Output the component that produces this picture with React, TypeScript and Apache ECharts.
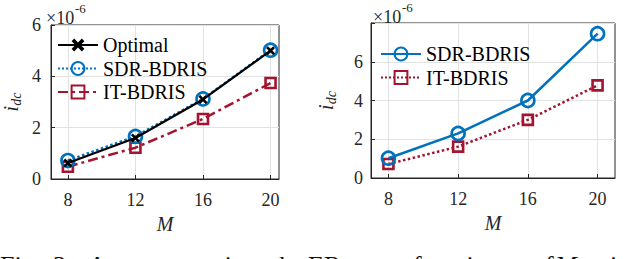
import React, { useEffect, useRef } from 'react';
import * as echarts from 'echarts';

const mValues = [8, 12, 16, 20];
// values in units of 1e-6
const leftOptimal = [0.62, 1.6, 3.1, 5.0];
const leftSDR = [0.72, 1.66, 3.12, 5.02];
const leftIT = [0.48, 1.22, 2.34, 3.74];
const rightSDR = [1.02, 2.3, 4.0, 7.45];
const rightIT = [0.72, 1.62, 3.0, 4.78];
const seriesNamesLeft = ['Optimal', 'SDR-BDRIS', 'IT-BDRIS'];
const seriesNamesRight = ['SDR-BDRIS', 'IT-BDRIS'];
const captionWords: [string, number, boolean][] = [
  ['Fig.', 0, false], ['3:', 53, false], ['Average', 88, false], ['i', 223, true],
  ['at', 247, false], ['the', 272, false], ['ER', 308, false], ['as', 365, false],
  ['a', 398, false], ['function', 413, false], ['of', 532, false], ['M', 555, true],
  ['using', 587, false],
];

const SERIF = 'Liberation Serif';
const AX = '#262626';
const GRIDC = '#e2e2e2';
const BLUE = '#0072BD';
const RED = '#A2142F';
const XSYM = 'path://M0,2 L2,0 L5,3 L8,0 L10,2 L7,5 L10,8 L8,10 L5,7 L2,10 L0,8 L3,5 Z';

const pairs = (ys: number[]) => ys.map((v, i) => [mValues[i], v]);

function xAxis(gridIndex: number, max: number) {
  return {
    type: 'value', gridIndex, min: 7, max,
    name: 'M', nameLocation: 'middle', nameGap: 30,
    nameTextStyle: { fontFamily: SERIF, fontStyle: 'italic', fontSize: 20, color: AX },
    axisLine: { show: true, lineStyle: { color: AX, width: 1 } },
    axisTick: { show: true, inside: true, length: 4, customValues: mValues, lineStyle: { color: AX } },
    axisLabel: { customValues: mValues, margin: 12, fontFamily: SERIF, fontSize: 18, color: AX },
    splitLine: { show: true, lineStyle: { color: GRIDC, width: 1 } },
  };
}

function yAxis(gridIndex: number, max: number, nameGap: number, margin: number) {
  return {
    type: 'value', gridIndex, min: 0, max, interval: 2,
    name: '{a|i}{b|dc}', nameLocation: 'middle', nameGap, nameRotate: 90,
    nameTextStyle: {
      rich: {
        a: { fontFamily: SERIF, fontStyle: 'italic', fontSize: 20, color: AX },
        b: { fontFamily: SERIF, fontStyle: 'italic', fontSize: 14, color: AX, padding: [10, 0, 0, 0] },
      },
    },
    axisLine: { show: true, lineStyle: { color: AX, width: 1 } },
    axisTick: { show: true, inside: true, length: 4, lineStyle: { color: AX } },
    axisLabel: {
      margin, fontFamily: SERIF, fontSize: 18, color: AX,
      formatter: (v: number) => (v >= 7.9 ? '' : String(v)),
    },
    splitLine: { show: true, lineStyle: { color: GRIDC, width: 1 } },
  };
}

export default function App() {
  const ref = useRef<HTMLDivElement>(null);
  useEffect(() => {
    document.body.style.margin = '0';
    const chart = echarts.init(ref.current!, undefined, { renderer: 'svg' });
    const exp = (x: number, y: number) => [
      { type: 'text', x, y, style: { text: '×10', fontFamily: SERIF, fontSize: 18, fill: AX, verticalAlign: 'top' } },
      { type: 'text', x: x + 29, y: y - 7, style: { text: '-6', fontFamily: SERIF, fontSize: 13, fill: AX, verticalAlign: 'top' } },
    ];
    const caption = captionWords.map(([w, x, it]) => ({
      type: 'text', x, y: 252,
      style: { text: w, fontFamily: SERIF, fontStyle: it ? 'italic' : 'normal', fontSize: 26, fill: '#111', verticalAlign: 'top' },
    }));
    const legendBase = {
      orient: 'vertical', itemWidth: 40, itemHeight: 16, itemGap: 3.5,
      textStyle: { fontFamily: SERIF, fontSize: 20, color: '#000' },
    };
    chart.setOption({
      animation: false,
      backgroundColor: '#fff',
      grid: [
        { left: 45, top: 25, width: 234, height: 154, show: true, borderColor: AX, borderWidth: 1 },
        { left: 371, top: 23, width: 244, height: 155, show: true, borderColor: AX, borderWidth: 1 },
      ],
      xAxis: [xAxis(0, 20.5), xAxis(1, 21)],
      yAxis: [yAxis(0, 6, 28, 10), yAxis(1, 8, 33, 8)],
      legend: [
        { ...legendBase, data: seriesNamesLeft.map((n) => ({ name: n })), left: 52, top: 30 },
        {
          ...legendBase, data: seriesNamesRight.map((n) => ({ name: n + ' ' })), left: 375, top: 39,
          formatter: (n: string) => n.trim(),
        },
      ],
      series: [
        {
          name: seriesNamesLeft[0], type: 'line', xAxisIndex: 0, yAxisIndex: 0, data: pairs(leftOptimal),
          symbol: XSYM, symbolSize: 9, z: 4,
          lineStyle: { color: '#000', width: 2.2, type: 'solid' },
          itemStyle: { color: '#000' },
        },
        {
          name: seriesNamesLeft[1], type: 'line', xAxisIndex: 0, yAxisIndex: 0, data: pairs(leftSDR),
          symbol: 'circle', symbolSize: 13, z: 3,
          lineStyle: { color: BLUE, width: 2.5, type: 'dotted' },
          itemStyle: { color: 'rgba(255,255,255,0)', borderColor: BLUE, borderWidth: 2.6 },
        },
        {
          name: seriesNamesLeft[2], type: 'line', xAxisIndex: 0, yAxisIndex: 0, data: pairs(leftIT),
          symbol: 'rect', symbolSize: 10, z: 2,
          lineStyle: { color: RED, width: 2.5, type: [10, 4, 3, 4] },
          itemStyle: { color: 'rgba(255,255,255,0)', borderColor: RED, borderWidth: 2.6 },
        },
        {
          name: seriesNamesRight[0] + ' ', type: 'line', xAxisIndex: 1, yAxisIndex: 1, data: pairs(rightSDR),
          symbol: 'circle', symbolSize: 13, z: 3,
          lineStyle: { color: BLUE, width: 2.5, type: 'solid' },
          itemStyle: { color: 'rgba(255,255,255,0)', borderColor: BLUE, borderWidth: 2.6 },
        },
        {
          name: seriesNamesRight[1] + ' ', type: 'line', xAxisIndex: 1, yAxisIndex: 1, data: pairs(rightIT),
          symbol: 'rect', symbolSize: 10, z: 2,
          lineStyle: { color: RED, width: 2.5, type: 'dotted' },
          itemStyle: { color: 'rgba(255,255,255,0)', borderColor: RED, borderWidth: 2.6 },
        },
      ],
      graphic: [...exp(46, 9), ...exp(373, 8), ...caption],
    });
    return () => chart.dispose();
  }, []);
  return <div ref={ref} style={{ width: 640, height: 259 }} />;
}
